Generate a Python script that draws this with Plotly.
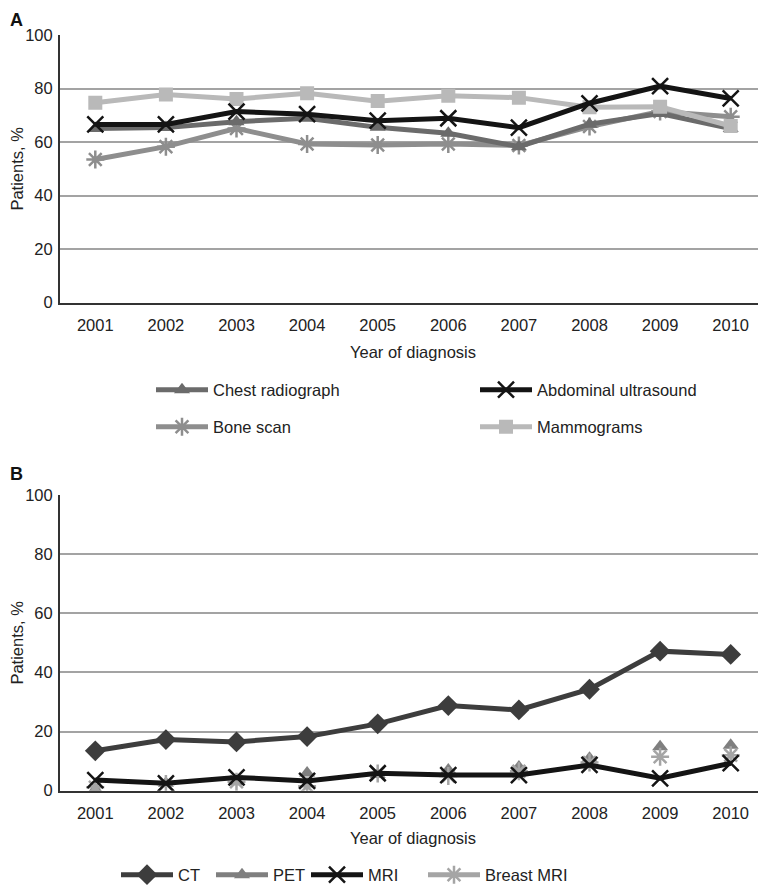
import plotly.graph_objects as go

years = ["2001", "2002", "2003", "2004", "2005", "2006", "2007", "2008", "2009", "2010"]

# Panel A
chest_radiograph = [65.1, 65.4, 67.6, 68.9, 65.5, 63.3, 58.3, 66.7, 70.7, 65.1]
abdominal_ultrasound = [66.6, 66.6, 71.4, 70.4, 68.0, 68.9, 65.4, 74.5, 80.9, 76.3]
bone_scan = [53.5, 58.3, 65.1, 59.3, 58.9, 59.3, 58.7, 65.8, 71.4, 69.5]
mammograms = [74.7, 77.8, 76.1, 78.2, 75.3, 77.3, 76.6, 73.0, 73.2, 66.0]

# Panel B
ct = [13.5, 17.3, 16.5, 18.3, 22.6, 28.8, 27.3, 34.3, 47.2, 46.1]
pet = [0.4, 2.5, 3.0, 6.0, 5.5, 7.0, 8.0, 11.0, 14.9, 15.4]
mri = [3.6, 2.5, 4.5, 3.3, 5.9, 5.3, 5.3, 8.7, 4.2, 9.3]
breast_mri = [1.2, 2.3, 3.0, 1.5, 5.8, 5.0, 6.6, 9.5, 11.5, 12.0]

OFF = 8  # page body margin
W, H = 766 - OFF, 900
FONT = "Liberation Sans, Arial, sans-serif"
TXT = "#222222"
FS = 16.5


def fx(px):  # page px -> paper fraction
    return (px - OFF) / W


def fy(py):
    return 1 - (py - OFF) / H


fig = go.Figure()

# ---- Panel A traces ----
specs_a = {
    "Chest radiograph": (chest_radiograph, "#6b6b6b", "triangle-up", 14, "legend"),
    "Bone scan": (bone_scan, "#8e8e8e", "asterisk-open", 15, "legend2"),
    "Abdominal ultrasound": (abdominal_ultrasound, "#141414", "x-thin-open", 16, "legend3"),
    "Mammograms": (mammograms, "#b9b9b9", "square", 14, "legend4"),
}
for name in ["Bone scan", "Chest radiograph", "Mammograms", "Abdominal ultrasound"]:
    vals, col, sym, sz, lg = specs_a[name]
    open_sym = sym.endswith("open")
    fig.add_trace(go.Scatter(
        x=years, y=vals, name=name, mode="lines+markers",
        line=dict(color=col, width=5),
        marker=dict(symbol=sym, size=sz, color=col,
                    line=dict(color=col, width=2.5 if open_sym else 0)),
        xaxis="x", yaxis="y", legend=lg,
    ))

# ---- Panel B traces ----
fig.add_trace(go.Scatter(
    x=years, y=ct, name="CT", mode="lines+markers",
    line=dict(color="#3d3d3d", width=5),
    marker=dict(symbol="diamond", size=16, color="#3d3d3d"),
    xaxis="x2", yaxis="y2", legend="legend5",
))
fig.add_trace(go.Scatter(
    x=years, y=pet, name="PET", mode="markers", showlegend=False,
    marker=dict(symbol="triangle-up", size=14, color="#7f7f7f"),
    xaxis="x2", yaxis="y2",
))
fig.add_trace(go.Scatter(
    x=[None], y=[None], name="PET", mode="lines+markers",
    line=dict(color="#7f7f7f", width=5),
    marker=dict(symbol="triangle-up", size=14, color="#7f7f7f"),
    xaxis="x2", yaxis="y2", legend="legend6",
))
fig.add_trace(go.Scatter(
    x=years, y=breast_mri, name="Breast MRI", mode="markers", showlegend=False,
    marker=dict(symbol="asterisk-open", size=15, color="#a5a5a5",
                line=dict(color="#a5a5a5", width=2.5)),
    xaxis="x2", yaxis="y2",
))
fig.add_trace(go.Scatter(
    x=[None], y=[None], name="Breast MRI", mode="lines+markers",
    line=dict(color="#a5a5a5", width=5),
    marker=dict(symbol="asterisk-open", size=15, color="#a5a5a5",
                line=dict(color="#a5a5a5", width=2.5)),
    xaxis="x2", yaxis="y2", legend="legend8",
))
fig.add_trace(go.Scatter(
    x=years, y=mri, name="MRI", mode="lines+markers",
    line=dict(color="#141414", width=5),
    marker=dict(symbol="x-thin-open", size=16, color="#141414",
                line=dict(color="#141414", width=2.5)),
    xaxis="x2", yaxis="y2", legend="legend7",
))

xdom = [fx(60), 1.0]
common_x = dict(
    type="category", categoryorder="array", categoryarray=years,
    range=[-0.5, 9.5], showgrid=False, zeroline=False,
    showline=True, linecolor="#333333", linewidth=2,
    ticks="outside", ticklen=6, tickcolor="rgba(0,0,0,0)",
    tickfont=dict(size=FS, color=TXT, family=FONT),
    domain=xdom, automargin=False,
)
common_y = dict(
    range=[0, 100], dtick=20, showgrid=True, gridcolor="#a3a3a3", gridwidth=2,
    zeroline=False, showline=True, linecolor="#333333", linewidth=2,
    ticks="outside", ticklen=2, tickcolor="rgba(0,0,0,0)",
    tickfont=dict(size=FS, color=TXT, family=FONT),
    automargin=False,
)


def leg(xpage, ypage):
    return dict(x=fx(xpage - 7), y=fy(ypage + 2), xanchor="left", yanchor="middle",
                orientation="v", itemwidth=52,
                font=dict(size=FS, color=TXT, family=FONT),
                bgcolor="rgba(0,0,0,0)")


fig.update_layout(
    width=W, height=H,
    margin=dict(l=0, r=0, t=0, b=0),
    paper_bgcolor="white", plot_bgcolor="white",
    font=dict(family=FONT, size=FS, color=TXT),
    xaxis=dict(common_x, anchor="y",
               title=dict(text="Year of diagnosis", standoff=14,
                          font=dict(size=FS, color=TXT))),
    yaxis=dict(common_y, anchor="x", domain=[fy(302.7), fy(35)],
               title=dict(text="Patients, %", standoff=7,
                          font=dict(size=FS, color=TXT))),
    xaxis2=dict(common_x, anchor="y2",
                title=dict(text="Year of diagnosis", standoff=12,
                           font=dict(size=FS, color=TXT))),
    yaxis2=dict(common_y, anchor="x2", domain=[fy(790.7), fy(495)],
                title=dict(text="Patients, %", standoff=7,
                           font=dict(size=FS, color=TXT))),
    legend=leg(158, 388),
    legend2=leg(158, 425),
    legend3=leg(482, 388),
    legend4=leg(482, 425),
    legend5=leg(123, 873),
    legend6=leg(218, 873),
    legend7=leg(313, 873),
    legend8=leg(430, 873),
    showlegend=True,
    annotations=[
        dict(text="<b>A</b>", x=0, y=1, xref="paper", yref="paper",
             xanchor="left", yanchor="top", showarrow=False,
             font=dict(size=18, color="#111111", family=FONT)),
        dict(text="<b>B</b>", x=0, y=fy(474), xref="paper", yref="paper",
             xanchor="left", yanchor="middle", showarrow=False,
             font=dict(size=18, color="#111111", family=FONT)),
    ],
)

fig.write_html("out.html")
